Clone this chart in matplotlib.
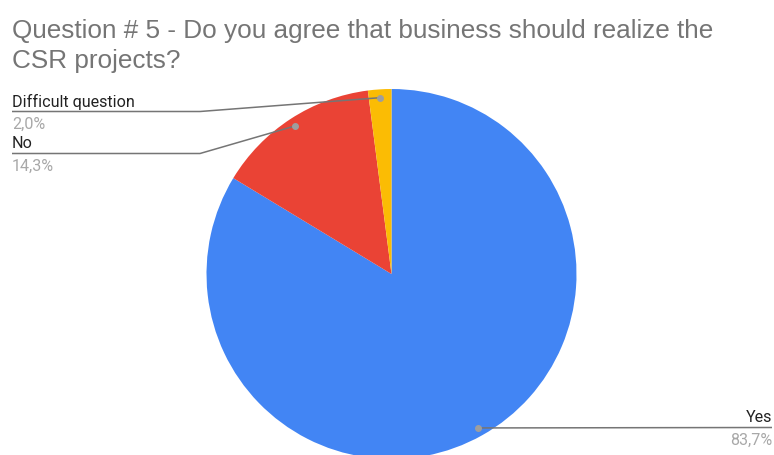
import numpy as np
import matplotlib
matplotlib.use("Agg")
import matplotlib.pyplot as plt

labels = ["Yes", "No", "Difficult question"]
pct_labels = ["83,7%", "14,3%", "2,0%"]
values = [41, 7, 1]
colors = ["#4285F4", "#EA4335", "#FBBC04"]

W, H = 774, 456
fig = plt.figure(figsize=(W / 100, H / 100), dpi=100)
ax = fig.add_axes([0, 0, 1, 1])

cx, cy, R = 391.5, H - 275, 185
wedges, _ = ax.pie(values, colors=colors, startangle=90, counterclock=False,
                   center=(cx, cy), radius=R, wedgeprops=dict(linewidth=0))
ax.set_xlim(0, W)
ax.set_ylim(0, H)
ax.set_aspect("auto")
ax.axis("off")

# label anchors (pixel layout): (line y, bend x, line end x, align)
layout = {
    "Yes": dict(ly=428.5, bend=None, end=772, ha="right"),
    "No": dict(ly=154.5, bend=200, end=12, ha="left"),
    "Difficult question": dict(ly=112.5, bend=200, end=12, ha="left"),
}
line_col = "#757575"
for w, lab, pl in zip(wedges, labels, pct_labels):
    ang = np.deg2rad((w.theta1 + w.theta2) / 2)
    dx = cx + 0.955 * R * np.cos(ang)
    dy = cy + 0.955 * R * np.sin(ang)
    L = layout[lab]
    ly = H - L["ly"]
    if L["bend"] is None:
        xs, ys = [dx, L["end"]], [dy, ly]
    else:
        xs, ys = [dx, L["bend"], L["end"]], [dy, ly, ly]
    ax.plot(xs, ys, color=line_col, lw=1.1, solid_capstyle="butt", zorder=3)
    ax.plot([dx], [dy], "o", color="#9e9e9e", ms=4, zorder=4)
    ax.text(L["end"], ly + 6, lab, ha=L["ha"], va="baseline", fontsize=11.6,
            family="Roboto", color="#222222")
    ax.text(L["end"], ly - 16.8, pl, ha=L["ha"], va="baseline", fontsize=11.6,
            family="Roboto", color="#a8a8a8")

fig.text(12 / W, 1 - 38 / H, "Question # 5 - Do you agree that business should realize the",
         ha="left", va="baseline", fontsize=18.8, family="Liberation Sans", color="#757575")
fig.text(12 / W, 1 - 68 / H, "CSR projects?",
         ha="left", va="baseline", fontsize=18.8, family="Liberation Sans", color="#757575")

fig.savefig("out.png", dpi=100)
